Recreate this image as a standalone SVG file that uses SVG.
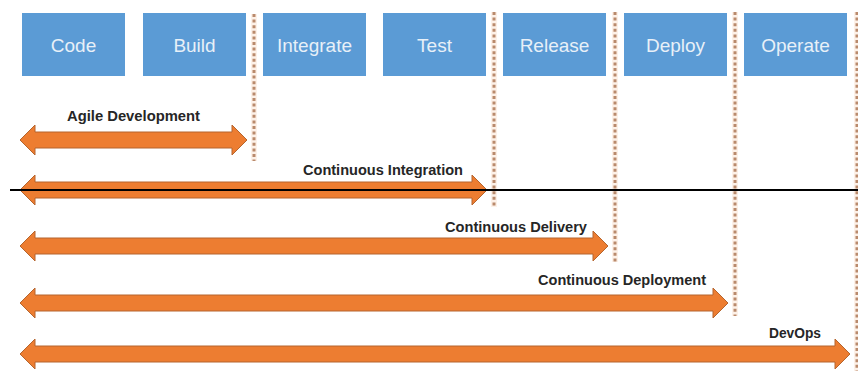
<svg xmlns="http://www.w3.org/2000/svg" width="858" height="371" viewBox="0 0 858 371">
<style>
.box{fill:#5b9bd5;}
.bt{font-family:"Liberation Sans",Arial,sans-serif;font-size:19px;fill:#e8f0f8;text-anchor:middle;}
.dot{stroke:#b98a6c;stroke-width:3;stroke-dasharray:3 2.6;fill:none;}
.halo{stroke:#fbe3d2;stroke-width:6;fill:none;opacity:0.5;}
.arr{fill:#ed7d31;stroke:#b5652e;stroke-width:1;}
.lt{font-family:"Liberation Sans",Arial,sans-serif;font-size:14px;font-weight:bold;fill:#262626;}
</style>
<rect width="858" height="371" fill="#ffffff"/>
<g id="stages">
<g id="code"><rect class="box" x="22" y="13" width="103" height="63"/><text class="bt" x="73.5" y="52">Code</text></g>
<g id="build"><rect class="box" x="143" y="13" width="103" height="63"/><text class="bt" x="194.5" y="52">Build</text></g>
<g id="integrate"><rect class="box" x="263" y="13" width="103" height="63"/><text class="bt" x="314.5" y="52">Integrate</text></g>
<g id="test"><rect class="box" x="383" y="13" width="103" height="63"/><text class="bt" x="434.5" y="52">Test</text></g>
<g id="release"><rect class="box" x="503" y="13" width="103" height="63"/><text class="bt" x="554.5" y="52">Release</text></g>
<g id="deploy"><rect class="box" x="624" y="13" width="103" height="63"/><text class="bt" x="675.5" y="52">Deploy</text></g>
<g id="operate"><rect class="box" x="744" y="13" width="103" height="63"/><text class="bt" x="795.5" y="52">Operate</text></g>
</g>
<g id="dividers">
<path class="halo" d="M254,14V161M494,12V207M615,12V262M735,12V316M857,12V371"/>
<path class="dot" d="M254,14V161M494,12V207M615,12V262M735,12V316M857,12V371"/>
</g>
<g id="connectors">
<g id="agile">
<path class="arr" d="M20,140L35,125L35,132L232,132L232,125L247,140L232,155L232,148L35,148L35,155Z"/>
<text class="lt" x="67" y="121" textLength="133" lengthAdjust="spacingAndGlyphs">Agile Development</text>
</g>
<g id="ci">
<path class="arr" d="M20,190L35,175L35,182L472,182L472,175L487,190L472,205L472,198L35,198L35,205Z"/>
<text class="lt" x="303" y="175" textLength="160" lengthAdjust="spacingAndGlyphs">Continuous Integration</text>
</g>
<g id="cdel">
<path class="arr" d="M20,246L35,231L35,238L593,238L593,231L608,246L593,261L593,254L35,254L35,261Z"/>
<text class="lt" x="445" y="232" textLength="142" lengthAdjust="spacingAndGlyphs">Continuous Delivery</text>
</g>
<g id="cdep">
<path class="arr" d="M20,303L35,288L35,295L713,295L713,288L728,303L713,318L713,311L35,311L35,318Z"/>
<text class="lt" x="538" y="285" textLength="168" lengthAdjust="spacingAndGlyphs">Continuous Deployment</text>
</g>
<g id="devops">
<path class="arr" d="M20,354L35,339L35,346L835,346L835,339L850,354L835,369L835,362L35,362L35,369Z"/>
<text class="lt" x="769" y="338" textLength="52" lengthAdjust="spacingAndGlyphs">DevOps</text>
</g>
</g>
<line id="rule" x1="10" y1="190" x2="858" y2="190" stroke="#000" stroke-width="2"/>
</svg>
